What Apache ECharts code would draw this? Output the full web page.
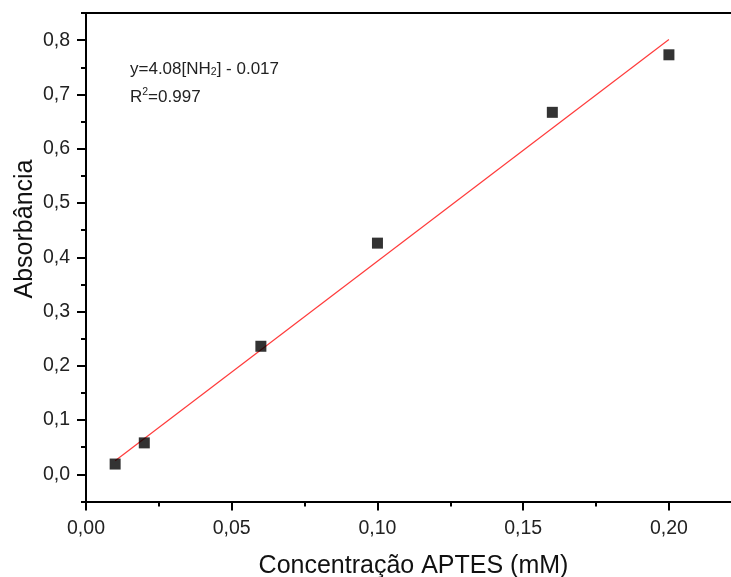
<!DOCTYPE html>
<html>
<head>
<meta charset="utf-8">
<script src="https://cdn.jsdelivr.net/npm/echarts@6/dist/echarts.min.js"></script>
<style>
html,body{margin:0;padding:0;background:#fff;}
#c{width:731px;height:577px;}
</style>
</head>
<body>
<div id="c"></div>
<script>
// Data
const concentration = [0.01, 0.02, 0.06, 0.10, 0.16, 0.20];
const absorbance = [0.019, 0.058, 0.236, 0.426, 0.667, 0.773];
const fitX = [0.01, 0.20];
const fitY = [0.025, 0.801];
const xTicks = [0, 0.05, 0.10, 0.15, 0.20];
const xMinorTicks = [0.025, 0.075, 0.125, 0.175];
const yTicks = [0, 0.1, 0.2, 0.3, 0.4, 0.5, 0.6, 0.7, 0.8];
const yMinorTicks = [-0.05, 0.05, 0.15, 0.25, 0.35, 0.45, 0.55, 0.65, 0.75, 0.85];
const xTitle = 'Concentração APTES (mM)';
const yTitle = 'Absorbância';

const FONT = '"Liberation Sans", Arial, sans-serif';
const chart = echarts.init(document.getElementById('c'), null, {renderer: 'canvas'});

const scatterData = concentration.map((x, i) => [x, absorbance[i]]);
const fitData = fitX.map((x, i) => [x, fitY[i]]);
const XMAX = 0.2213, YMIN = -0.05, YMAX = 0.85;
const lineBlack = {color: '#000', width: 2};

chart.setOption({
  backgroundColor: '#ffffff',
  animation: false,
  grid: {left: 86, right: 0, top: 13, bottom: 75.5, containLabel: false, outerBoundsMode: 'none'},
  xAxis: [{
    type: 'value', min: 0, max: XMAX,
    position: 'bottom',
    axisLine: {show: true, onZero: false, lineStyle: lineBlack},
    axisTick: {show: true, inside: false, length: 9, customValues: xTicks, lineStyle: lineBlack},
    splitLine: {show: false},
    axisLabel: {
      color: '#222', fontFamily: FONT, fontSize: 19.5, margin: 17,
      customValues: xTicks,
      formatter: v => v.toFixed(2).replace('.', ',')
    },
    name: xTitle, nameLocation: 'middle', nameGap: 52,
    nameTextStyle: {color: '#111', fontFamily: FONT, fontSize: 25, padding: [0, 0, 0, 10]}
  }, {
    type: 'value', min: 0, max: XMAX, position: 'bottom',
    axisLine: {show: false, onZero: false},
    axisTick: {show: true, inside: false, length: 5, customValues: xMinorTicks, lineStyle: lineBlack},
    axisLabel: {show: false}, splitLine: {show: false}
  }, {
    type: 'value', min: 0, max: XMAX, position: 'top',
    axisLine: {show: true, onZero: false, lineStyle: lineBlack},
    axisTick: {show: false}, axisLabel: {show: false}, splitLine: {show: false}
  }],
  yAxis: [{
    type: 'value', min: YMIN, max: YMAX,
    axisLine: {show: true, onZero: false, lineStyle: lineBlack},
    axisTick: {show: true, inside: false, length: 9, customValues: yTicks, lineStyle: lineBlack},
    splitLine: {show: false},
    axisLabel: {
      color: '#222', fontFamily: FONT, fontSize: 19.5, margin: 16,
      customValues: yTicks,
      formatter: v => v.toFixed(1).replace('.', ',')
    }
  }, {
    type: 'value', min: YMIN, max: YMAX, position: 'left',
    axisLine: {show: false, onZero: false},
    axisTick: {show: true, inside: false, length: 5, customValues: yMinorTicks, lineStyle: lineBlack},
    axisLabel: {show: false}, splitLine: {show: false}
  }],
  graphic: [{
    type: 'text', left: 130, top: 57, z: 10,
    style: {
      text: '{a|y=4.08[NH}{s|2}{a|] - 0.017}\n{a|R}{p|2}{a|=0.997}',
      fontFamily: FONT,
      rich: {
        a: {fontSize: 17, fontFamily: FONT, fill: '#222', lineHeight: 28, verticalAlign: 'bottom'},
        s: {fontSize: 10.5, fontFamily: FONT, fill: '#222', lineHeight: 28, verticalAlign: 'bottom', padding: [10, 0, 0, 0]},
        p: {fontSize: 10.5, fontFamily: FONT, fill: '#222', lineHeight: 28, verticalAlign: 'bottom', padding: [0, 0, 8, 0]}
      }
    }
  }, {
    type: 'text', x: 25, y: 229, rotation: Math.PI / 2, z: 10,
    style: {
      text: yTitle, fontFamily: FONT, fontSize: 25, fill: '#111',
      textAlign: 'center', textVerticalAlign: 'middle'
    }
  }],
  series: [{
    type: 'line', data: fitData, showSymbol: false, symbol: 'none',
    lineStyle: {color: '#ff3b3b', width: 1.2}, z: 2, silent: true
  }, {
    type: 'scatter', data: scatterData, symbol: 'rect', symbolSize: 11,
    itemStyle: {color: '#000'}, z: 3
  }]
});
</script>
</body>
</html>
